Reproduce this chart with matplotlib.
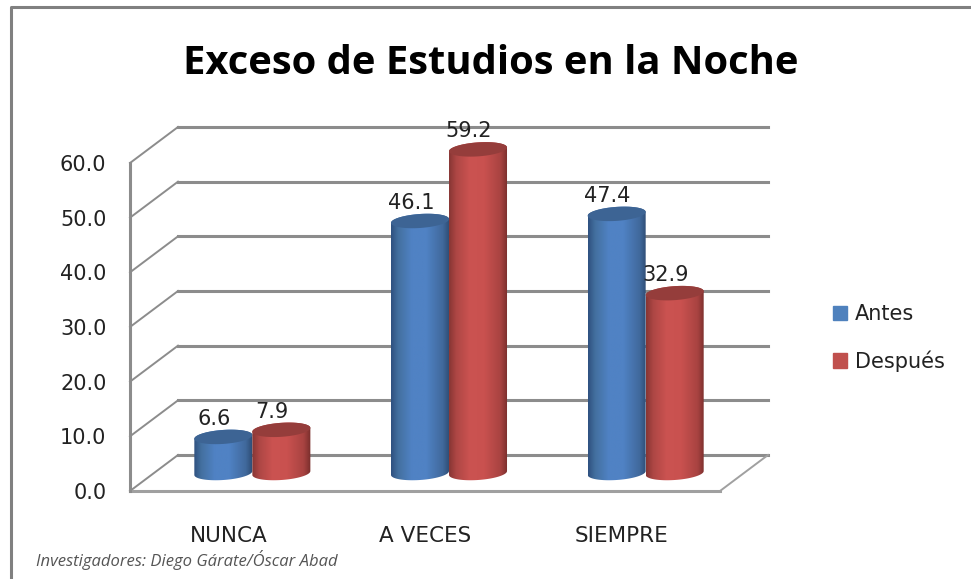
import numpy as np
import matplotlib
matplotlib.use('Agg')
import matplotlib.pyplot as plt
from matplotlib.colors import LinearSegmentedColormap
from matplotlib.patches import Patch, PathPatch
from matplotlib.path import Path
from matplotlib.transforms import Affine2D

categories = ['NUNCA', 'A VECES', 'SIEMPRE']
antes = [6.6, 46.1, 47.4]
despues = [7.9, 59.2, 32.9]
series_names = ['Antes', 'Después']
y_ticks = [0, 10, 20, 30, 40, 50, 60]

W, H = 971, 579
plt.rcParams['font.family'] = ['DejaVu Sans']

fig = plt.figure(figsize=(W / 100, H / 100), dpi=100)
# axes box is the front plane of the fake 3d box
ax = fig.add_axes([130 / W, 1 - 491 / H, 590 / W, 328 / H])
ax.set_xlim(0, 3)
ax.set_ylim(0, 60)
ax.patch.set_visible(False)
for s in ax.spines.values():
    s.set_visible(False)
ax.tick_params(length=0)

# depth shifts are in pixels
back = ax.transData + Affine2D().translate(48, 36)
mid = ax.transData + Affine2D().translate(24, 18)

GRID = '#8c8c8c'
for v in y_ticks:
    ax.plot([0, 3], [v, v], transform=back, color=GRID, lw=2.2, clip_on=False, zorder=1)
    x0, y0 = ax.transData.transform((0, v))
    # side wall diagonal, front to back
    ax.plot([x0, x0 + 48], [y0, y0 + 36], transform=None, color=GRID, lw=1.4, clip_on=False, zorder=1)

xr, yr = ax.transData.transform((3, 0))
ax.plot([xr, xr + 48], [yr, yr + 36], transform=None, color='#a0a0a0', lw=1.4, clip_on=False, zorder=1)
ax.plot([0, 3], [0, 0], color='#a0a0a0', lw=2.2, clip_on=False, zorder=1)
ax.plot([0, 0], [0, 60], color=GRID, lw=2.2, clip_on=False, zorder=1)

TEXT = '#222222'
ax.set_yticks(y_ticks)
ax.set_yticklabels([f'{v:.1f}' for v in y_ticks], fontsize=15, color=TEXT)
ax.tick_params(axis='y', pad=17)
ax.set_xticks([0.5, 1.5, 2.5])
ax.set_xticklabels(categories, fontsize=15.5, color=TEXT)
ax.tick_params(axis='x', pad=25)

BAR_W = 0.295
ELL_H = 1.28   # half height of the cylinder caps, value units
TILT = 0.35
t = np.linspace(0, 2 * np.pi, 90)

stops = [0, 0.12, 0.35, 0.6, 0.88, 1]
blue_cm = LinearSegmentedColormap.from_list('b', list(zip(stops, ['#2f5180', '#43709f', '#5082c4', '#5082c4', '#40699c', '#2d4b72'])))
red_cm = LinearSegmentedColormap.from_list('r', list(zip(stops, ['#873634', '#ad4644', '#cb5351', '#c9514f', '#a84341', '#782e2c'])))
grad = np.linspace(0, 1, 128).reshape(1, -1)


def draw_cylinder(xc, value, cmap, cap_color, z):
    xs = xc + BAR_W / 2 * np.cos(t)
    lower = t[t >= np.pi]
    upper = t[t <= np.pi]
    # body outline: bottom arc then the back of the top cap
    bx = xc + BAR_W / 2 * np.cos(lower)
    by = ELL_H * np.sin(lower) + TILT * np.cos(lower)
    tx = xc + BAR_W / 2 * np.cos(upper)
    ty = value + ELL_H * np.sin(upper) + TILT * np.cos(upper)
    verts = np.column_stack([np.r_[bx, tx], np.r_[by, ty]])
    clip = PathPatch(Path(np.vstack([verts, verts[0]])), transform=mid, fc='none', ec='none')
    ax.add_patch(clip)
    im = ax.imshow(grad, cmap=cmap, aspect='auto', zorder=z, transform=mid,
                   extent=[xc - BAR_W / 2, xc + BAR_W / 2, -ELL_H * 2, value + ELL_H * 2],
                   interpolation='bilinear')
    im.set_clip_path(clip)
    im.set_clip_box(fig.bbox)
    ax.fill(xs, value + ELL_H * np.sin(t) + TILT * np.cos(t), color=cap_color, transform=mid,
            lw=0, zorder=z + 0.1, clip_on=False)


for i in range(len(categories)):
    draw_cylinder(i + 0.5 - BAR_W / 2, antes[i], blue_cm, '#3d6494', 3 + i)
    draw_cylinder(i + 0.5 + BAR_W / 2, despues[i], red_cm, '#953d3b', 3.5 + i)
    for xc, v in [(i + 0.5 - BAR_W / 2, antes[i]), (i + 0.5 + BAR_W / 2, despues[i])]:
        ax.annotate(f'{v:.1f}', xy=(xc, v), xycoords=mid, xytext=(-6.5, 13),
                    textcoords='offset points', ha='center', va='center',
                    fontsize=15, color=TEXT, zorder=10)

# imshow resets the limits
ax.set_xlim(0, 3)
ax.set_ylim(0, 60)

fig.text(491 / W, 1 - 74 / H, 'Exceso de Estudios en la Noche', ha='center', va='baseline',
         fontsize=28.8, fontweight='bold', color='black', family='Open Sans')
fig.text(36 / W, 1 - 560 / H, 'Investigadores: Diego Gárate/Óscar Abad', ha='left', va='center',
         fontsize=12, style='italic', color='#555555', family='Open Sans')

handles = [Patch(color='#4f81bd'), Patch(color='#c0504d')]
fig.legend(handles, series_names, loc='center left', bbox_to_anchor=(814 / W, 1 - 338 / H),
           frameon=False, fontsize=15, handlelength=0.67, handleheight=0.67,
           handletextpad=0.38, labelspacing=1.25, labelcolor=TEXT)

# chart border, only top and left fall inside the crop
border = fig.add_axes([0, 0, 1, 1], zorder=-1)
border.set_xlim(0, W)
border.set_ylim(H, 0)
border.axis('off')
border.plot([11, 11, W], [H, 7, 7], color='#808080', lw=2.2)

fig.savefig('out.png', dpi=100)
